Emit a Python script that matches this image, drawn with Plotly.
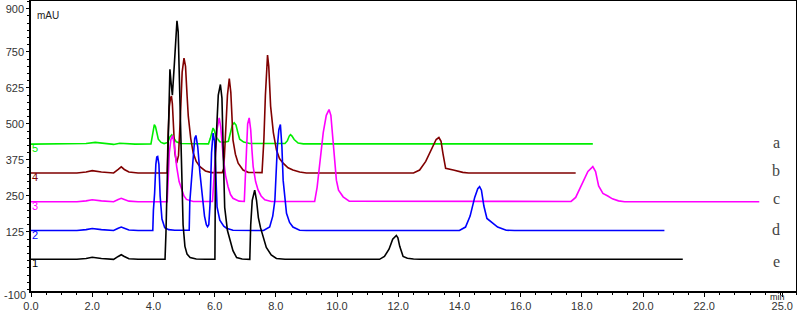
import plotly.graph_objects as go

# ---- data ----
# trace 5 / a (green)
a_t = [0, 1.5, 1.8, 2.1, 2.4, 2.7, 2.9, 3.1, 3.4, 3.92, 3.96, 4.0, 4.03, 4.07, 4.1, 4.16, 4.25, 4.35, 4.47,
       4.54, 4.6, 4.68, 4.75, 4.9, 5.8, 5.86, 5.92, 5.95, 5.99, 6.05, 6.17, 6.3, 6.45, 6.52, 6.58, 6.64, 6.7,
       6.76, 6.82, 6.95, 7.15, 8.3, 8.38, 8.44, 8.48, 8.53, 8.6, 8.73, 8.9, 18.36]
a_v = [430, 430, 432, 436, 432, 429, 433, 431, 430, 431, 455, 485, 498, 490, 472, 447, 436, 432, 436,
       455, 462, 450, 438, 432, 431, 450, 480, 486, 478, 455, 438, 436, 440, 470, 496, 504, 496,
       470, 447, 437, 432, 432, 442, 458, 463, 458, 446, 434, 431, 431]

# trace 4 / b (brown)
b_t = [0, 1.5, 1.8, 2.0, 2.3, 2.7, 2.85, 2.95, 3.05, 3.2, 3.5, 4.45, 4.48, 4.52, 4.56, 4.59, 4.62, 4.66, 4.7,
       4.76, 4.82, 4.88, 4.94, 5.0, 5.05, 5.1, 5.14, 5.22, 5.3, 5.4, 5.52, 5.7, 5.9, 6.25, 6.3, 6.35,
       6.42, 6.48, 6.53, 6.57, 6.6, 6.68, 6.77, 6.93, 7.1, 7.55, 7.58, 7.61, 7.66, 7.7, 7.73, 7.77, 7.83,
       7.92, 8.02, 8.12, 8.24, 8.4, 8.56, 8.78, 9.0, 12.5, 12.7, 12.9, 13.03, 13.15, 13.24, 13.33, 13.4,
       13.46, 13.55, 13.8, 14.11, 14.3, 17.8]
b_v = [330, 330, 333, 338, 333, 330, 342, 351, 342, 333, 330, 330, 460, 560, 590, 597, 570, 480, 400,
       364, 390, 520, 680, 729, 700, 600, 527, 450, 400, 370, 352, 337, 331, 331, 345, 450,
       600, 658, 610, 520, 445, 395, 364, 340, 332, 331, 380, 445, 600, 720, 739, 700, 562,
       470, 410, 380, 364, 348, 340, 333, 330, 330, 340, 370, 399, 425, 446, 453, 440,
       399, 346, 340, 332, 330, 330]

# trace 3 / c (magenta)
c_t = [0, 1.5, 1.8, 2.0, 2.3, 2.7, 2.85, 2.95, 3.05, 3.2, 3.5, 4.45, 4.48, 4.52, 4.57, 4.63, 4.68, 4.76,
       4.84, 4.92, 5.0, 5.08, 5.3, 5.93, 5.97, 6.02, 6.08, 6.15, 6.2, 6.28, 6.36, 6.44, 6.52, 6.6, 6.8,
       6.97, 7.0, 7.04, 7.08, 7.13, 7.18, 7.22, 7.26, 7.34, 7.42, 7.52, 7.64, 7.85, 9.27, 9.35, 9.45,
       9.55, 9.65, 9.74, 9.8, 9.87, 9.93, 9.98, 10.05, 10.2, 10.4, 17.65, 17.8, 18.0, 18.2, 18.36,
       18.45, 18.55, 18.69, 18.85, 19.0, 19.2, 19.4, 23.8]
c_v = [230, 230, 233, 237, 233, 230, 238, 242, 238, 232, 230, 230, 300, 400, 445, 460, 430, 352,
       300, 271, 250, 238, 231, 231, 300, 400, 480, 521, 490, 387, 320, 282, 255, 242, 232,
       231, 300, 420, 500, 521, 480, 410, 352, 300, 271, 250, 237, 231, 231, 280, 380,
       470, 530, 550, 530, 445, 360, 305, 270, 247, 232, 231, 245, 290, 335, 352,
       335, 285, 259, 250, 240, 233, 230, 230]

# trace 2 / d (blue)
d_t = [0, 1.5, 1.8, 2.0, 2.3, 2.7, 2.85, 2.95, 3.05, 3.2, 3.5, 3.98, 4.0, 4.04, 4.08, 4.11, 4.14, 4.18,
       4.22, 4.28, 4.37, 4.5, 4.7, 5.17, 5.19, 5.24, 5.3, 5.35, 5.39, 5.45, 5.52, 5.6, 5.67, 5.73,
       5.77, 5.81, 5.85, 5.9, 5.95, 6.0, 6.04, 6.08, 6.17, 6.3, 6.39, 6.6, 7.6, 7.8, 7.9, 7.97, 8.05,
       8.1, 8.15, 8.2, 8.24, 8.3, 8.35, 8.45, 8.56, 8.78, 9.0, 14.0, 14.2, 14.35, 14.5, 14.6, 14.66,
       14.72, 14.8, 14.9, 15.05, 15.25, 15.53, 15.8, 20.7]
d_v = [130, 130, 133, 137, 133, 130, 138, 142, 138, 132, 130, 130, 200, 260, 360, 385, 387, 360,
       250, 170, 140, 133, 131, 131, 230, 300, 400, 450, 460, 420, 330, 240, 180, 150,
       143, 150, 220, 400, 468, 440, 330, 212, 166, 145, 138, 131, 130, 142, 180, 235, 420,
       480, 498, 420, 305, 230, 190, 158, 142, 131, 130, 130, 142, 180, 245, 275, 282,
       270, 215, 172, 158, 142, 131, 130, 130]

# trace 1 / e (black)
e_t = [0, 1.5, 1.8, 2.0, 2.3, 2.7, 2.85, 2.95, 3.05, 3.2, 3.5, 4.38, 4.41, 4.45, 4.5, 4.54, 4.58, 4.62,
       4.68, 4.74, 4.77, 4.81, 4.85, 4.92, 4.97, 5.03, 5.1, 5.2, 5.4, 5.7, 6.01, 6.03, 6.07, 6.12,
       6.19, 6.24, 6.3, 6.33, 6.42, 6.5, 6.6, 6.72, 6.9, 7.15, 7.18, 7.23, 7.31, 7.37, 7.43, 7.5,
       7.6, 7.69, 7.85, 8.02, 8.3, 11.39, 11.55, 11.7, 11.82, 11.9, 11.94, 11.99, 12.05, 12.16,
       12.3, 12.5, 12.7, 21.3]
e_v = [30, 30, 33, 37, 33, 30, 40, 46, 40, 32, 30, 30, 120, 300, 560, 690, 640, 600,
       700, 840, 858, 820, 650, 350, 150, 75, 48, 36, 31, 30, 30, 400, 520, 600,
       637, 590, 330, 210, 130, 95, 60, 36, 31, 30, 150, 235, 270, 235, 175, 140,
       100, 71, 45, 33, 30, 30, 40, 65, 100, 111, 113, 105, 75, 40,
       34, 31, 30, 30]

trace_names = ["5", "4", "3", "2", "1"]
trace_letters = ["a", "b", "c", "d", "e"]
trace_colors = ["#00ee00", "#800000", "#ff00ff", "#0000ff", "#000000"]
baselines = [430, 330, 230, 130, 30]
letter_levels = [437, 340, 240, 135, 21]

y_tick_vals = [900, 750, 625, 500, 375, 250, 125]
y_tick_text = ["900", "750", "625", "500", "375", "250", "125"]
x_tick_vals = [0, 2, 4, 6, 8, 10, 12, 14, 16, 18, 20, 22, 24.55]
x_tick_text = ["0.0", "2.0", "4.0", "6.0", "8.0", "10.0", "12.0", "14.0", "16.0", "18.0", "20.0", "22.0", "25.0"]

series = [(a_t, a_v), (b_t, b_v), (c_t, c_v), (d_t, d_v), (e_t, e_v)]

fig = go.Figure()
for (t, v), col, nm in zip(series, trace_colors, trace_names):
    fig.add_trace(go.Scatter(x=t, y=v, mode="lines", line=dict(color=col, width=1.6),
                             name=nm, showlegend=False, hoverinfo="skip"))

ann = []
for nm, col, base in zip(trace_names, trace_colors, baselines):
    ann.append(dict(x=0, y=base, xref="x", yref="y", text=nm, showarrow=False,
                    xanchor="left", yanchor="top", xshift=-1, yshift=4,
                    font=dict(family="Liberation Sans", size=11, color=col)))
for lt, lev in zip(trace_letters, letter_levels):
    ann.append(dict(x=24.36, y=lev, xref="x", yref="y", text=lt, showarrow=False,
                    xanchor="center", yanchor="middle",
                    font=dict(family="Liberation Serif", size=16, color="#444444")))
ann.append(dict(x=0, y=1, xref="paper", yref="paper", text="mAU", showarrow=False,
                xanchor="left", yanchor="top", xshift=4, yshift=-7,
                font=dict(family="Liberation Sans", size=10, color="#222222")))
ann.append(dict(x=1, y=0, xref="paper", yref="paper", text="min", showarrow=False,
                xanchor="right", yanchor="top", xshift=-10, yshift=0, borderpad=0,
                font=dict(family="Liberation Sans", size=9, color="#222222")))
ann.append(dict(x=0, y=0, xref="paper", yref="paper", text="-100", showarrow=False,
                xanchor="right", yanchor="middle", xshift=-3, yshift=-4,
                font=dict(family="Liberation Sans", size=11, color="#333333")))

fig.update_layout(
    width=797, height=311,
    margin=dict(l=31, r=1, t=1, b=20, autoexpand=False),
    paper_bgcolor="white", plot_bgcolor="white",
    annotations=ann,
    xaxis=dict(range=[0, 25], tickvals=x_tick_vals, ticktext=x_tick_text, automargin=False,
               showgrid=False, zeroline=False, showline=True, linecolor="black", linewidth=1.5,
               mirror=True, ticks="outside", ticklen=4, tickcolor="black", tickwidth=1,
               tickfont=dict(family="Liberation Sans", size=11, color="#333333"),
               minor=dict(dtick=0.5, tick0=0, ticks="outside", ticklen=2, tickcolor="black", showgrid=False)),
    yaxis=dict(range=[-80, 927], tickvals=y_tick_vals, ticktext=y_tick_text, automargin=False,
               showgrid=False, zeroline=False, showline=True, linecolor="black", linewidth=1.5,
               mirror=True, ticks="outside", ticklen=3, tickcolor="black", tickwidth=1,
               tickfont=dict(family="Liberation Sans", size=11, color="#333333"),
               minor=dict(dtick=25, tick0=0, ticks="outside", ticklen=2, tickcolor="black", showgrid=False)),
)

fig.write_html("out.html", config={"displayModeBar": False},
               post_script="document.body.style.margin='0';document.body.style.overflow='hidden';")
